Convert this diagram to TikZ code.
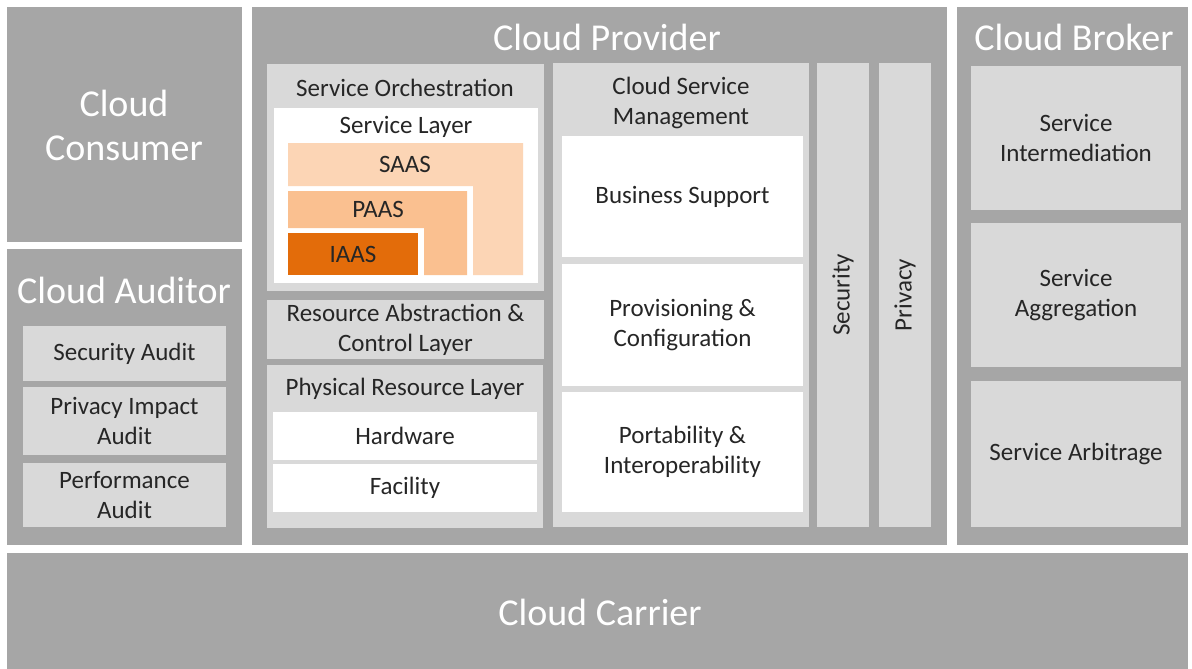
\documentclass[tikz,border=0pt]{standalone}
\usepackage{fontspec}
\setmainfont{Carlito}
\usetikzlibrary{fit}
\definecolor{outergray}{HTML}{A6A6A6}
\definecolor{innergray}{HTML}{D9D9D9}
\definecolor{saascol}{HTML}{FCD5B5}
\definecolor{paascol}{HTML}{FAC090}
\definecolor{iaascol}{HTML}{E36C0A}
\definecolor{txtcol}{HTML}{262626}
\tikzset{
  outerbox/.style={fill=outergray, draw=none, inner sep=0pt},
  innerbox/.style={fill=innergray, draw=none, inner sep=0pt},
  whitebox/.style={fill=white, draw=none, inner sep=0pt},
  titletxt/.style={text=white, font=\fontsize{38}{44}\selectfont, align=center, inner sep=0pt},
  lbl/.style={text=txtcol, font=\fontsize{25}{30}\selectfont, align=center, inner sep=0pt},
}
\begin{document}
\begin{tikzpicture}[x=1pt, y=-1pt]
\useasboundingbox[fill=white] (0,0) rectangle (1192,669);
% outer actors
\node[outerbox, fit={(7,7) (242,242)}] (consumer) {};
\node[outerbox, fit={(7,249) (242,545)}] (auditor) {};
\node[outerbox, fit={(252,7) (947,545)}] (provider) {};
\node[outerbox, fit={(957,7) (1188,545)}] (broker) {};
\node[outerbox, fit={(7,553) (1188,669)}] (carrier) {};
% titles
\node[titletxt] (consumerT) at (124,125) {Cloud\\Consumer};
\node[titletxt] (carrierT) at (600,612) {Cloud Carrier};
\node[titletxt] (auditorT) at (124,290) {Cloud Auditor};
\node[titletxt] (providerT) at (607,37) {Cloud Provider};
\node[titletxt] (brokerT) at (1074,37) {Cloud Broker};
% auditor items
\node[innerbox, fit={(23,326) (226,381)}] (secaudit) {};
\node[lbl] (secauditT) at (secaudit.center) {Security Audit};
\node[innerbox, fit={(23,387) (226,455)}] (privaudit) {};
\node[lbl] (privauditT) at (privaudit.center) {Privacy Impact\\Audit};
\node[innerbox, fit={(23,463) (226,527)}] (perfaudit) {};
\node[lbl] (perfauditT) at (perfaudit.center) {Performance\\Audit};
% service orchestration
\node[innerbox, fit={(267,64) (544,291)}] (orch) {};
\node[lbl] (orchT) at (405,88) {Service Orchestration};
\node[whitebox, fit={(274,108) (538,283)}] (slayer) {};
\node[lbl] (slayerT) at (406,127) {Service Layer};
\fill[saascol] (288,143) -- (523,143) -- (523,275) -- (473,275) -- (473,186) -- (288,186) -- cycle;
\fill[paascol] (288,191) -- (467,191) -- (467,275) -- (424,275) -- (424,228) -- (288,228) -- cycle;
\node[fill=iaascol, inner sep=0pt, fit={(288,233) (418,275)}] (iaas) {};
\node[lbl] (iaasT) at (353,254) {IAAS};
\node[lbl] (saas) at (405,164) {SAAS};
\node[lbl] (paas) at (378,209) {PAAS};
% resource abstraction
\node[innerbox, fit={(267,300) (544,359)}] (rac) {};
\node[lbl] (racT) at (rac.center) {Resource Abstraction \&\\Control Layer};
\node[innerbox, fit={(267,365) (543,528)}] (phys) {};
\node[lbl] (physT) at (405,389) {Physical Resource Layer};
\node[whitebox, fit={(273,412) (537,460)}] (hw) {};
\node[lbl] (hwT) at (hw.center) {Hardware};
\node[whitebox, fit={(273,464) (537,512)}] (fac) {};
\node[lbl] (facT) at (fac.center) {Facility};
% cloud service management
\node[innerbox, fit={(553,63) (809,527)}] (csm) {};
\node[lbl] (csmT) at (681,103) {Cloud Service\\Management};
\node[whitebox, fit={(562,136) (803,257)}] (bs) {};
\node[lbl] (bsT) at (bs.center) {Business Support};
\node[whitebox, fit={(562,264) (803,386)}] (pc) {};
\node[lbl] (pcT) at (pc.center) {Provisioning \&\\Configuration};
\node[whitebox, fit={(562,392) (803,512)}] (pi) {};
\node[lbl] (piT) at (pi.center) {Portability \&\\Interoperability};
% security / privacy
\node[innerbox, fit={(817,63) (869,527)}] (sec) {};
\node[lbl, rotate=90] (secT) at (sec.center) {Security};
\node[innerbox, fit={(879,63) (931,527)}] (priv) {};
\node[lbl, rotate=90] (privT) at (priv.center) {Privacy};
% broker items
\node[innerbox, fit={(971,66) (1181,210)}] (inter) {};
\node[lbl] (interT) at (inter.center) {Service\\Intermediation};
\node[innerbox, fit={(971,223) (1181,367)}] (aggr) {};
\node[lbl] (aggrT) at (aggr.center) {Service\\Aggregation};
\node[innerbox, fit={(971,381) (1181,527)}] (arb) {};
\node[lbl] (arbT) at (arb.center) {Service Arbitrage};
\end{tikzpicture}
\end{document}
